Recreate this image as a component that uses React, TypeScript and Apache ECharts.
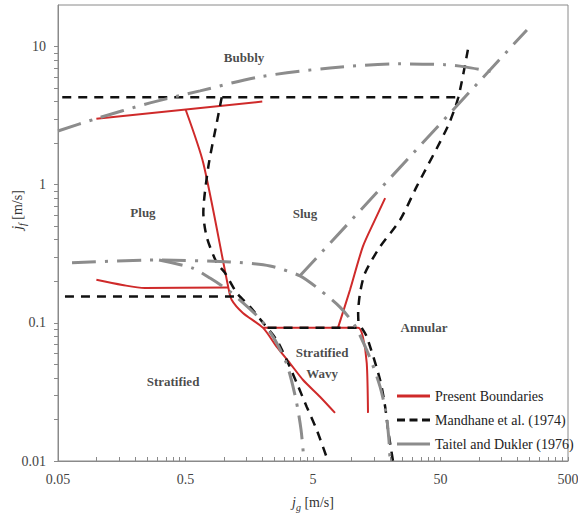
import React, { useEffect, useRef } from 'react';
import * as echarts from 'echarts';

// ---- axis definition ----
const xTickLabels = ['0.05', '0.5', '5', '50', '500'];
const yTickLabels = ['0.01', '0.1', '1', '10'];
const xMin = 0.05;
const xMax = 500;
const yMin = 0.01;
const yMax = 20;

// ---- Present Boundaries (red) : [jg, jf] ----
const presentBubblyPlug = [[0.1, 3.0], [2.0, 4.0]];
const presentPlugSlugWavy = [
  [0.5, 3.52], [0.69, 1.43], [1.08, 0.183], [1.15, 0.147], [1.41, 0.118], [2.03, 0.092],
  [2.6, 0.067], [3.3, 0.051], [4.18, 0.0386], [5.67, 0.0292], [7.44, 0.0223],
];
const presentWavyAnnular = [[2.03, 0.092], [11.3, 0.092], [12.3, 0.0795], [13.2, 0.051], [13.5, 0.0223]];
const presentSlugAnnular = [[7.85, 0.092], [9.75, 0.173], [12.3, 0.356], [15.3, 0.556], [18.4, 0.8]];
const presentStratPlug = [[0.1, 0.205], [0.16, 0.188], [0.24, 0.179], [1.08, 0.18]];

// ---- Mandhane et al. (1974) (black dashed) ----
const mandhaneBubbly = [[0.054, 4.3], [69, 4.3]];
const mandhaneSlugAnnular = [
  [82, 9.5], [69, 4.3], [57, 2.64], [32.5, 0.968], [24.1, 0.556], [16.8, 0.356],
  [12.8, 0.23], [11.7, 0.165], [11.3, 0.118], [11.4, 0.092],
];
const mandhaneWavyAnnular = [[12.05, 0.092], [13.2, 0.0795], [16.8, 0.0386], [18.4, 0.0247], [19.4, 0.0168], [21.2, 0.01]];
const mandhaneWavy = [[2.2, 0.092], [12.05, 0.092]];
const mandhaneStratified = [[0.0567, 0.155], [1.34, 0.155]];
const mandhanePlug = [
  [0.962, 4.3], [0.879, 2.8], [0.755, 1.35], [0.69, 0.625], [0.733, 0.42], [0.879, 0.272],
  [1.02, 0.23], [1.26, 0.165], [1.6, 0.131], [2.03, 0.1], [2.6, 0.075], [3.11, 0.0538],
  [3.73, 0.0367], [4.46, 0.0247], [5.35, 0.0168], [6.55, 0.01],
];

// ---- Taitel and Dukler (1976) (grey dash-dot) ----
const taitelBubbly = [
  [0.05, 2.45], [0.0975, 2.99], [0.264, 3.91], [0.65, 4.78], [1.92, 6.04], [6.8, 7.0],
  [24, 7.5], [54, 7.4], [78, 7.13], [126, 6.56],
];
const taitelAnnular = [[3.95, 0.219], [238, 13.2]];
const taitelStratified = [
  [0.0644, 0.272], [0.288, 0.285], [1.12, 0.276], [2.3, 0.258], [3.95, 0.219], [5.67, 0.173],
  [8.14, 0.13], [10.7, 0.095], [14, 0.0557], [16.8, 0.0344], [18.7, 0.0223], [19.7, 0.0142], [20.1, 0.01],
];
const taitelWavy = [
  [0.31, 0.285], [0.562, 0.25], [0.778, 0.211], [1.12, 0.168], [1.92, 0.107], [2.52, 0.075],
  [3.13, 0.0496], [3.68, 0.0277], [4.03, 0.0168], [4.25, 0.01],
];

// ---- region labels ----
const regionNames = ['Bubbly', 'Plug', 'Slug', 'Annular', 'Stratified', 'Stratified\nWavy'];
const regionX = [1.44, 0.232, 4.33, 37.1, 0.399, 5.9];
const regionY = [8.4, 0.625, 0.615, 0.092, 0.0379, 0.0508];

const SERIES_PRESENT = 'Present Boundaries';
const SERIES_MANDHANE = 'Mandhane et al. (1974)';
const SERIES_TAITEL = 'Taitel and Dukler (1976)';

const FONT = 'Liberation Serif, Times New Roman, serif';
const RED = '#cf2a2a';
const BLACK = '#111111';
const GRAY = '#8c8c8c';
const AXIS = '#8a8a8a';

const lg = Math.log10;

export default function App() {
  const ref = useRef<HTMLDivElement>(null);

  useEffect(() => {
    if (!ref.current) return;
    const chart = echarts.init(ref.current, null, { renderer: 'svg' });

    const xMajor = xTickLabels.map((s) => lg(Number(s)));
    const xMinor: number[] = [];
    xTickLabels.slice(0, -1).forEach((s) => {
      const b = Number(s);
      for (let k = 2; k <= 9; k++) xMinor.push(lg(b * k));
    });
    const yMajor = yTickLabels.map((s) => lg(Number(s)));
    const yMinor: number[] = [];
    yTickLabels.slice(0, -1).forEach((s) => {
      const b = Number(s);
      for (let k = 2; k <= 9; k++) yMinor.push(lg(b * k));
    });

    const fmt = (majors: number[], labels: string[]) => (v: number) => {
      const i = majors.findIndex((m) => Math.abs(m - v) < 1e-3);
      return i >= 0 ? labels[i] : '';
    };

    const redStyle = { color: RED, width: 2 };
    const blackStyle = { color: BLACK, width: 2.5, type: [9, 7] };
    const grayStyle = { color: GRAY, width: 3, type: [24, 9, 3, 9] };

    const mk = (name: string, data: number[][], lineStyle: any, smooth: number) => ({
      type: 'line',
      name,
      xAxisIndex: 0,
      yAxisIndex: 0,
      data,
      symbol: 'none',
      showSymbol: false,
      smooth,
      lineStyle,
      itemStyle: { color: lineStyle.color },
      silent: true,
      z: 3,
    });

    const series: any[] = [
      mk(SERIES_PRESENT, presentBubblyPlug, redStyle, 0),
      mk(SERIES_PRESENT, presentPlugSlugWavy, redStyle, 0.25),
      mk(SERIES_PRESENT, presentWavyAnnular, redStyle, 0.25),
      mk(SERIES_PRESENT, presentSlugAnnular, redStyle, 0.25),
      mk(SERIES_PRESENT, presentStratPlug, redStyle, 0.3),
      mk(SERIES_MANDHANE, mandhaneBubbly, blackStyle, 0),
      mk(SERIES_MANDHANE, mandhaneSlugAnnular, blackStyle, 0.25),
      mk(SERIES_MANDHANE, mandhaneWavyAnnular, blackStyle, 0.25),
      mk(SERIES_MANDHANE, mandhaneWavy, blackStyle, 0),
      mk(SERIES_MANDHANE, mandhaneStratified, blackStyle, 0),
      mk(SERIES_MANDHANE, mandhanePlug, blackStyle, 0.25),
      mk(SERIES_TAITEL, taitelBubbly, grayStyle, 0.3),
      mk(SERIES_TAITEL, taitelAnnular, grayStyle, 0),
      mk(SERIES_TAITEL, taitelStratified, grayStyle, 0.25),
      mk(SERIES_TAITEL, taitelWavy, grayStyle, 0.25),
      {
        type: 'scatter',
        name: 'regions',
        xAxisIndex: 0,
        yAxisIndex: 0,
        symbolSize: 1,
        itemStyle: { color: 'rgba(0,0,0,0)' },
        silent: true,
        data: regionNames.map((n, i) => ({ name: n, value: [regionX[i], regionY[i]] })),
        label: {
          show: true,
          position: 'inside',
          formatter: '{b}',
          fontFamily: FONT,
          fontWeight: 'bold',
          fontSize: 13,
          lineHeight: 21,
          color: '#1a1a1a',
        },
        z: 4,
      },
    ];

    const subRich = {
      i: { fontFamily: FONT, fontStyle: 'italic', fontSize: 14, lineHeight: 20, color: '#333' },
      s: { fontFamily: FONT, fontStyle: 'italic', fontSize: 10, lineHeight: 10, verticalAlign: 'bottom', color: '#333' },
    };

    const option: any = {
      animation: false,
      backgroundColor: '#ffffff',
      textStyle: { fontFamily: FONT },
      grid: {
        left: 58,
        top: 5,
        width: 510,
        height: 456,
        show: true,
        borderColor: AXIS,
        borderWidth: 1,
        backgroundColor: '#ffffff',
        containLabel: false,
        outerBoundsMode: 'none',
      },
      xAxis: [
        { type: 'log', logBase: 10, min: xMin, max: xMax, position: 'top', show: false },
        {
          type: 'value',
          min: lg(xMin),
          max: lg(xMax),
          position: 'bottom',
          axisLine: { show: true, lineStyle: { color: AXIS, width: 1 } },
          axisTick: { show: true, inside: true, length: 4, customValues: [...xMajor, ...xMinor], lineStyle: { color: AXIS } },
          axisLabel: {
            customValues: xMajor,
            formatter: fmt(xMajor, xTickLabels),
            margin: 11,
            fontFamily: FONT,
            fontSize: 14,
            color: '#444',
          },
          splitLine: { show: false },
          name: '{i|j}{s|g} [m/s]',
          nameLocation: 'middle',
          nameGap: 31,
          nameTextStyle: { fontFamily: FONT, fontSize: 14, lineHeight: 20, color: '#333', rich: subRich },
        },
      ],
      yAxis: [
        { type: 'log', logBase: 10, min: yMin, max: yMax, position: 'right', show: false },
        {
          type: 'value',
          min: lg(yMin),
          max: lg(yMax),
          position: 'left',
          axisLine: { show: true, lineStyle: { color: AXIS, width: 1 } },
          axisTick: { show: true, inside: false, length: 4, customValues: [...yMajor, ...yMinor], lineStyle: { color: AXIS } },
          axisLabel: {
            customValues: yMajor,
            formatter: fmt(yMajor, yTickLabels),
            margin: 12,
            fontFamily: FONT,
            fontSize: 14,
            color: '#444',
          },
          splitLine: { show: false },
        },
      ],
      legend: {
        data: [
          { name: SERIES_PRESENT, icon: 'path://M0,0h33v3h-33z' },
          { name: SERIES_MANDHANE, icon: 'path://M0,0h8v3h-8zM12.5,0h8v3h-8zM25,0h8v3h-8z' },
          { name: SERIES_TAITEL, icon: 'path://M0,0h33v3h-33z' },
        ],
        orient: 'vertical',
        left: 392,
        top: 384,
        itemWidth: 33,
        itemHeight: 3,
        itemGap: 10,
        selectedMode: false,
        textStyle: { fontFamily: FONT, fontSize: 14, color: '#222' },
      },
      graphic: [
        {
          type: 'text',
          x: 17,
          y: 210,
          rotation: Math.PI / 2,
          style: {
            text: '{i|j}{s|f} [m/s]',
            rich: subRich,
            fontFamily: FONT,
            fontSize: 14,
            lineHeight: 20,
            fill: '#333',
            align: 'center',
            verticalAlign: 'middle',
          },
        },
      ],
      series,
    };

    chart.setOption(option);
    return () => chart.dispose();
  }, []);

  return (
    <div
      ref={ref}
      style={{ position: 'fixed', left: 0, top: 0, width: 578, height: 515, background: '#fff' }}
    />
  );
}
